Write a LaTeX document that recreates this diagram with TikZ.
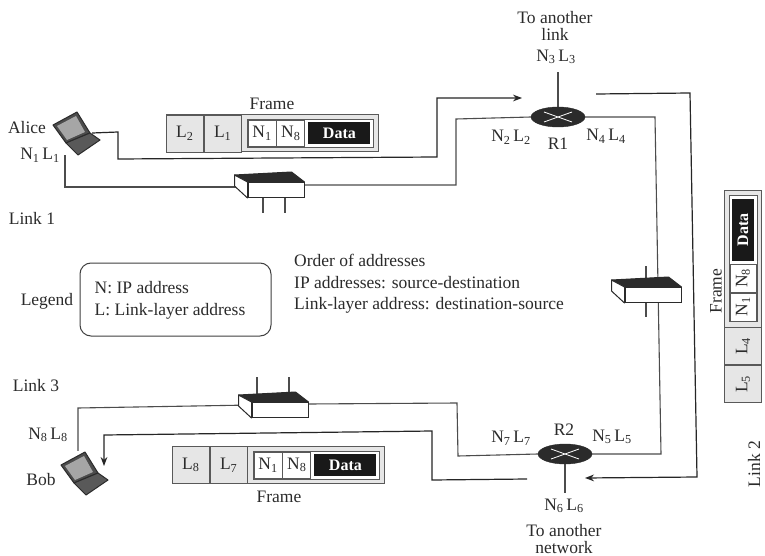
\documentclass[tikz,border=0pt]{standalone}
\usepackage{xcolor}
\usepackage{fontspec}
\setmainfont{Liberation Serif}
\definecolor{scanInk}{HTML}{2b2b2b}
\definecolor{scanCell}{HTML}{e6e6e6}
\usepackage{tikz}
\usetikzlibrary{positioning,arrows.meta,calc,shapes.geometric,backgrounds}
\newcommand{\addr}[2]{N\textsubscript{#1}\,L\textsubscript{#2}}
% hub: front face is the node, top and side are drawn from its corners
\newcommand{\hubbox}[2]{%
  \node[hubfront] (#1) at (#2) {};
  \draw[hubline,fill=scanInk] (#1.north west) -- ++(-13,-7) -- ++(57,-3) -- (#1.north east) -- cycle;
  \draw[hubline,fill=white] (#1.north west) -- ++(-13,-7) -- ++(0,11) -- (#1.south west) -- cycle;
}
% laptop: the node only holds the place, the connectors end on it
\newcommand{\laptop}[2]{%
  \node[laptopspot] (#1) at (#2) {};
  \draw[hubline,fill=black!70] ($(#1)+(-23,-8)$) -- ++(24,-13) -- ++(13,21) -- ++(-24,10) -- cycle;
  \fill[black!35] ($(#1)+(-19,-7)$) -- ++(19,-10) -- ++(9,16) -- ++(-18,8) -- cycle;
  \draw[hubline,fill=black!65] ($(#1)+(-10,10)$) -- ++(24,-10) -- ++(10,7) -- ++(-22,15) -- cycle;
}
% frame: drawn from the top left corner of its outer box
\newcommand{\framerow}[3]{%
  \node[outerbox] (#1) at (0,0) {};
  \node[hopcell,right=0pt of #1.west] (#1a) {#2};
  \node[hopcell,right=0pt of #1a] (#1b) {#3};
  \node[innerbox,right=5pt of #1b] (#1c) {};
  \node[ipcell,right=1pt of #1c.west] (#1d) {N\textsubscript{1}};
  \node[ipcell,right=0pt of #1d] (#1e) {N\textsubscript{8}};
  \node[datacell,right=3pt of #1e] (#1f) {Data};
}
\begin{document}
\begin{tikzpicture}[
      x=1pt,y=-1pt,
      every node/.style={font=\fontsize{17.5}{17}\selectfont,text=scanInk,inner sep=0pt},
      router/.style={ellipse,fill=scanInk,draw=scanInk,minimum width=54pt,minimum height=20pt,
                     path picture={\draw[white,thick]
                       ([xshift=-14pt,yshift=-5pt]path picture bounding box.center) --
                       ([xshift=14pt,yshift=5pt]path picture bounding box.center)
                       ([xshift=-14pt,yshift=5pt]path picture bounding box.center) --
                       ([xshift=14pt,yshift=-5pt]path picture bounding box.center);}},
      hubfront/.style={rectangle,draw=scanInk,fill=white,line width=1pt,minimum width=56pt,minimum height=15pt},
      hubline/.style={draw=scanInk,line width=1pt,line join=round},
      laptopspot/.style={rectangle,minimum width=48pt,minimum height=44pt},
      outerbox/.style={rectangle,draw=black!65,fill=scanCell,line width=1pt,minimum width=212pt,minimum height=37pt,anchor=west},
      hopcell/.style={rectangle,draw=black!65,fill=scanCell,line width=.8pt,minimum width=37pt,minimum height=37pt},
      innerbox/.style={rectangle,draw=black!65,fill=white,line width=1pt,minimum width=126pt,minimum height=28pt},
      ipcell/.style={rectangle,draw=black!65,fill=white,line width=.8pt,minimum width=28pt,minimum height=26pt},
      datacell/.style={rectangle,fill=black!90,text=white,font=\fontsize{16}{15}\selectfont\bfseries,minimum width=62pt,minimum height=22pt},
      wire/.style={draw=black!70,line width=1.1pt},
      arr/.style={-{Stealth[length=9pt]},draw=black!85,line width=1.2pt},
      legendbox/.style={rectangle,rounded corners=11pt,draw=black!75,line width=1pt,minimum width=191pt,minimum height=73pt},
    ]
    \useasboundingbox (0,0) rectangle (765,556);

    % Devices first, the wires go behind them
    \laptop{alice}{76,133}
    \laptop{bob}{84,473}
    \node[router] (Rone) at (558,117) {};
    \node[router] (Rtwo) at (565,454) {};
    \hubbox{hubA}{276,190}
    \hubbox{hubB}{653,295}
    \hubbox{hubC}{280,410}

    % Labels around the top router
    \node[align=center] (toLink) at (555,26) {To another\\link};
    \node (addrThree) at (556,57) {\addr{3}{3}};
    \node (addrTwo) at (511,137) {\addr{2}{2}};
    \node (addrFour) at (606,136) {\addr{4}{4}};
    \node (nameRone) at (558,144) {R1};

    % Labels around the bottom router
    \node (nameRtwo) at (564,430) {R2};
    \node (addrSeven) at (511,438) {\addr{7}{7}};
    \node (addrFive) at (612,437) {\addr{5}{5}};
    \node (addrSix) at (564,506) {\addr{6}{6}};
    \node[align=center] (toNet) at (564,539) {To another\\network};

    % Alice and Bob
    \node (nameAlice) at (27,128) {Alice};
    \node (addrOne) at (40,155) {\addr{1}{1}};
    \node (linkOne) at (32,218) {Link 1};
    \node (linkThree) at (36,386) {Link 3};
    \node (addrEight) at (48,435) {\addr{8}{8}};
    \node (nameBob) at (41,480) {Bob};
    \node[rotate=90] (linkTwo) at (754,464) {Link 2};

    % Legend and the order of addresses
    \node (legendName) at (47,301) {Legend};
    \node[legendbox] (legend) at (175.5,299.5) {};
    \node[right=15pt of legend.west,yshift=11.5pt] (legendN) {N: IP address};
    \node[right=15pt of legend.west,yshift=-11.5pt] (legendL) {L: Link-layer address};
    \node[anchor=west] (orderHead) at (294,260) {Order of addresses};
    \node[anchor=west] (orderIp) at (294,283) {IP addresses: source-destination};
    \node[anchor=west] (orderLink) at (294,305) {Link-layer address: destination-source};

    % Frames on links 1, 3 and 2
    \node (frameTop) at (272,104) {Frame};
    \begin{scope}[shift={(166,133.5)}]
      \framerow{ft}{L\textsubscript{2}}{L\textsubscript{1}}
    \end{scope}
    \node (frameBot) at (279,497) {Frame};
    \begin{scope}[shift={(172,465)}]
      \framerow{fb}{L\textsubscript{8}}{L\textsubscript{7}}
    \end{scope}
    \node[rotate=90] (frameRight) at (716,291) {Frame};
    \begin{scope}[shift={(743,403)},rotate=90,transform shape]
      \framerow{fr}{L\textsubscript{5}}{L\textsubscript{4}}
    \end{scope}

    % Free ends of the wires
    \coordinate (tipRone) at (522,98);
    \coordinate (tailRone) at (596,94);
    \coordinate (tipRtwo) at (585,478);
    \coordinate (tailRtwo) at (527,479);
    \coordinate (tipBob) at (104,466);
    \coordinate (endThree) at (558,72);
    \coordinate (endSix) at (565,493);

    \begin{scope}[on background layer]
      \fill[white] (0,0) rectangle (765,556);

      % Physical links
      \draw[wire] ([xshift=-11pt]alice.south) |- ([yshift=3pt]hubA.west);
      \draw[wire] ([yshift=5pt]hubA.east) -- (456,185) -- (456,119) -- (Rone.west);
      \draw[wire] (Rone.east) -- (655,117) -- (661,454) -- (Rtwo.east);
      \draw[wire] (Rtwo.west) -- (458,456) -- (457,403) -- ([yshift=6pt]hubC.east);
      \draw[wire] ([yshift=5pt]hubC.west) -- (78,408) -- ([xshift=-6pt]bob.north);
      \draw[wire] (Rone.north) -- (endThree);
      \draw[wire] (Rtwo.south) -- (endSix);

      % Hub pins
      \draw[wire] ([xshift=-13pt]hubA.south) -- ++(0,15);
      \draw[wire] ([xshift=9pt]hubA.south) -- ++(0,15);
      \draw[wire] ([xshift=-23pt]hubC.north) -- ++(0,-25);
      \draw[wire] ([xshift=9pt]hubC.north) -- ++(0,-25);
      \draw[wire] ([xshift=-7pt]hubB.north) -- ++(0,-21);
      \draw[wire] ([xshift=-7pt]hubB.south) -- ++(0,14);

      % Path of the frame
      \draw[arr] ([xshift=-8pt]alice.east) -- (118,132) -- (118,159) -- (437,157) -- (437,98) -- (tipRone);
      \draw[arr] (tailRone) -- (690,93) -- (697,477) -- (tipRtwo);
      \draw[arr] (tailRtwo) -- (432,480) -- (432,431) -- (104,435) -- (tipBob);
    \end{scope}
\end{tikzpicture}
\end{document}
